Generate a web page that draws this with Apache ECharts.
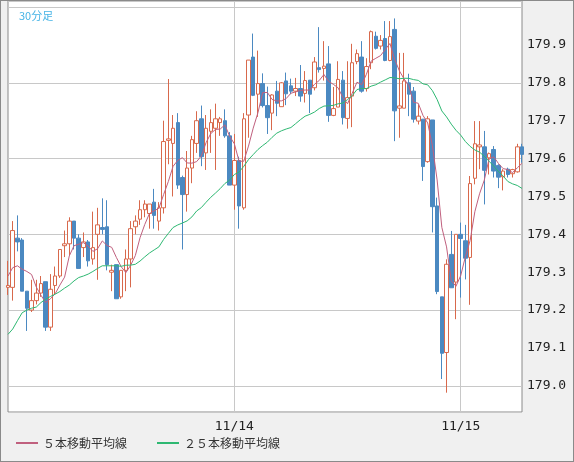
<!DOCTYPE html>
<html><head><meta charset="utf-8">
<script src="https://cdn.jsdelivr.net/npm/echarts@6/dist/echarts.min.js"></script>
<style>html,body{margin:0;padding:0;background:#f0f0f0}#c{width:572px;height:460px;border:1px solid #8a8a8a}</style>
</head><body><div id="c"></div>
<script>
// OHLC (30-minute candles, starting 11/13 00:00)
const opens  = [179.26,179.26,179.39,179.385,179.25,179.2,179.225,179.245,179.275,179.155,179.265,179.29,179.37,179.375,179.435,179.39,179.365,179.38,179.335,179.4,179.418,179.42,179.30,179.32,179.235,179.305,179.335,179.42,179.44,179.465,179.455,179.485,179.435,179.47,179.648,179.64,179.695,179.55,179.505,179.575,179.64,179.705,179.615,179.672,179.68,179.695,179.7,179.66,179.53,179.595,179.47,179.715,179.868,179.77,179.798,179.74,179.72,179.778,179.737,179.805,179.792,179.778,179.785,179.772,179.807,179.787,179.84,179.838,179.85,179.714,179.736,179.807,179.706,179.765,179.856,179.868,179.785,179.853,179.923,179.897,179.917,179.859,179.941,179.733,179.733,179.800,179.778,179.699,179.704,179.592,179.702,179.475,179.235,179.088,179.347,179.274,179.400,179.383,179.339,179.548,179.631,179.631,179.602,179.624,179.582,179.552,179.572,179.560,179.565,179.631];
const closes = [179.265,179.41,179.38,179.25,179.205,179.225,179.245,179.27,179.155,179.255,179.29,179.36,179.375,179.435,179.39,179.31,179.38,179.33,179.365,179.425,179.413,179.32,179.305,179.23,179.305,179.335,179.415,179.435,179.465,179.48,179.48,179.45,179.47,179.645,179.652,179.68,179.53,179.505,179.575,179.65,179.7,179.605,179.68,179.695,179.705,179.705,179.66,179.53,179.595,179.475,179.705,179.86,179.767,179.798,179.74,179.708,179.768,179.746,179.8,179.771,179.778,179.785,179.765,179.806,179.77,179.855,179.835,179.844,179.714,179.732,179.809,179.708,179.761,179.853,179.877,179.778,179.843,179.935,179.891,179.912,179.859,179.922,179.726,179.739,179.805,179.770,179.704,179.712,179.579,179.705,179.473,179.249,179.086,179.321,179.259,179.400,179.389,179.337,179.534,179.639,179.636,179.569,179.613,179.567,179.551,179.567,179.558,179.571,179.631,179.611];
const highs  = [179.33,179.435,179.45,179.39,179.25,179.28,179.28,179.29,179.275,179.295,179.315,179.36,179.41,179.445,179.435,179.4,179.405,179.385,179.46,179.47,179.495,179.49,179.32,179.32,179.305,179.36,179.435,179.45,179.49,179.49,179.48,179.52,179.485,179.7,179.81,179.715,179.72,179.555,179.62,179.66,179.725,179.74,179.715,179.73,179.745,179.71,179.73,179.67,179.665,179.605,179.72,179.86,179.93,179.885,179.825,179.79,179.77,179.805,179.802,179.827,179.811,179.813,179.847,179.831,179.807,179.868,179.947,179.91,179.897,179.789,179.857,179.831,179.857,179.903,179.888,179.910,179.865,179.938,179.935,179.926,179.963,179.963,179.970,179.879,179.879,179.824,179.789,179.743,179.704,179.712,179.702,179.497,179.235,179.334,179.409,179.400,179.431,179.425,179.554,179.699,179.699,179.673,179.616,179.633,179.585,179.572,179.576,179.573,179.639,179.639];
const lows   = [179.24,179.225,179.355,179.25,179.145,179.195,179.215,179.235,179.145,179.145,179.24,179.285,179.34,179.345,179.36,179.31,179.34,179.315,179.32,179.28,179.4,179.305,179.25,179.23,179.23,179.25,179.26,179.4,179.425,179.445,179.415,179.415,179.41,179.455,179.585,179.5,179.52,179.36,179.46,179.535,179.615,179.58,179.57,179.615,179.57,179.66,179.655,179.53,179.465,179.415,179.465,179.655,179.765,179.71,179.735,179.665,179.675,179.712,179.737,179.741,179.77,179.765,179.75,179.748,179.72,179.78,179.827,179.806,179.697,179.712,179.736,179.69,179.679,179.683,179.849,179.774,179.777,179.836,179.888,179.888,179.857,179.857,179.646,179.655,179.733,179.712,179.695,179.690,179.541,179.589,179.405,179.242,179.018,178.982,179.259,179.176,179.233,179.281,179.214,179.532,179.572,179.479,179.558,179.550,179.522,179.516,179.550,179.550,179.563,179.589];
// moving-average values at the left edge (depend on earlier candles not shown)
const ma5Head  = [179.29,179.312,179.317,179.308];
const ma25Head = [179.136,179.150,179.172,179.193,179.200,179.205,179.208,179.220,179.229,179.236,179.242,179.249,179.258,179.266,179.277,179.286,179.290,179.295,179.302,179.310,179.317,179.317,179.317,179.317];
const yLabels = [179.0,179.1,179.2,179.3,179.4,179.5,179.6,179.7,179.8,179.9];
const yTopGrid = 180.0;

const n = closes.length;
const cats = [];
const start = new Date(2000,10,13,0,0);
for (let i=0;i<n;i++){const d=new Date(start.getTime()+i*1800000);cats.push((d.getMonth()+1)+'/'+d.getDate()+' '+String(d.getHours()).padStart(2,'0')+':'+String(d.getMinutes()).padStart(2,'0'));}
function ma(p, head){const r=[];for(let i=0;i<n;i++){if(i<p-1){r.push(head[i]);continue;}let s=0;for(let j=i-p+1;j<=i;j++)s+=closes[j];r.push(+(s/p).toFixed(4));}return r;}
const isMid = i => cats[i].endsWith(' 00:00') && i>0;
const ohlc = closes.map((c,i)=>[opens[i],c,lows[i],highs[i]]);

const chart = echarts.init(document.getElementById('c'));
chart.setOption({
  animation:false,
  backgroundColor:'#f0f0f0',
  title:{text:'30分足',left:13,top:4,textStyle:{color:'#46b4e6',fontSize:11,fontWeight:'normal',fontFamily:'Noto Sans CJK JP'}},
  legend:{bottom:7,left:10,itemWidth:22,itemHeight:2,itemGap:30,icon:'rect',
    textStyle:{color:'#333',fontSize:12,fontFamily:'Noto Sans CJK JP'},data:['５本移動平均線','２５本移動平均線']},
  grid:{left:7,right:51,top:0,bottom:49,show:true,backgroundColor:'#fff',borderColor:'#8a8a8a',borderWidth:1},
  xAxis:{type:'category',data:cats,boundaryGap:false,
    axisLine:{show:false},axisTick:{show:false},
    axisLabel:{interval:(i)=>isMid(i),formatter:v=>v.split(' ')[0],color:'#222',fontSize:13,fontFamily:'DejaVu Sans Mono',margin:8},
    splitLine:{show:true,interval:(i)=>isMid(i),lineStyle:{color:'#c8c8c8'}}},
  yAxis:{type:'value',position:'right',min:178.931,max:180.016,
    axisLine:{show:false},axisTick:{show:false},
    axisLabel:{customValues:yLabels,formatter:v=>v.toFixed(1),color:'#222',fontSize:13,fontFamily:'DejaVu Sans Mono',margin:5},
    splitLine:{show:true,lineStyle:{color:'#c8c8c8'}}},
  series:[
    {type:'candlestick',data:ohlc,barWidth:4,
     itemStyle:{color:'#ffffff',color0:'#4b89c1',borderColor:'#d8694c',borderColor0:'#4b89c1',borderWidth:1},
     markLine:{silent:true,symbol:'none',label:{show:false},lineStyle:{color:'#c8c8c8',type:'solid',width:1},data:[{yAxis:yTopGrid}],z:1}},
    {name:'５本移動平均線',type:'line',data:ma(5,ma5Head),showSymbol:false,
     lineStyle:{color:'#c0607e',width:1},itemStyle:{color:'#c0607e'}},
    {name:'２５本移動平均線',type:'line',data:ma(25,ma25Head),showSymbol:false,
     lineStyle:{color:'#2eb872',width:1},itemStyle:{color:'#2eb872'}}
  ]
});
</script></body></html>
